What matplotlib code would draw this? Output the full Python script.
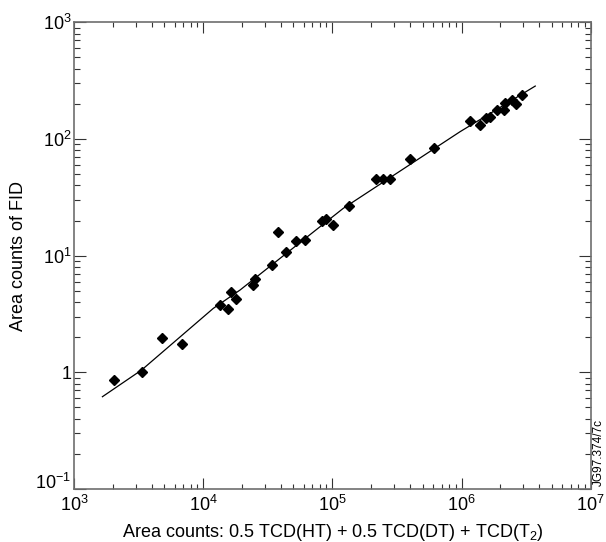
import numpy as np
import matplotlib
matplotlib.use('Agg')
import matplotlib.pyplot as plt
import matplotlib.transforms as mtransforms
from matplotlib.ticker import FixedLocator, FixedFormatter, LogLocator, NullFormatter

plt.rcParams['font.family'] = ['Liberation Sans', 'DejaVu Sans']
plt.rcParams['mathtext.fontset'] = 'custom'
plt.rcParams['mathtext.rm'] = 'Liberation Sans'
plt.rcParams['mathtext.it'] = 'Liberation Sans:italic'
plt.rcParams['mathtext.default'] = 'regular'

# measured points (TCD area sum vs FID area)
tcd_counts = [2040, 3380, 4830, 6850, 13550, 15560, 16330, 17950, 24270, 25300,
              34050, 37900, 43950, 52000, 61700, 83500, 89200, 101000, 134500,
              216000, 248000, 279000, 399000, 611000, 1.16e6, 1.38e6, 1.535e6,
              1.67e6, 1.89e6, 2.13e6, 2.16e6, 2.47e6, 2.64e6, 2.92e6]
fid_counts = [0.86, 1.01, 1.95, 1.75, 3.78, 3.48, 4.88, 4.28, 5.6, 6.3,
              8.3, 15.9, 10.7, 13.3, 13.7, 19.8, 20.5, 18.3, 26.6,
              45.6, 45.6, 45.6, 67.6, 83, 143, 132, 150,
              155, 177, 177, 204, 215, 198, 237]

# fitted curve
fit_x = [1660, 3340, 11970, 19280, 121300, 972800, 3.72e6]
fit_y = [0.618, 1.047, 3.53, 5.07, 25.4, 115.3, 284]

x_ticks = [1e3, 1e4, 1e5, 1e6, 1e7]
x_labels = ['$10^{3}$', '$10^{4}$', '$10^{5}$', '$10^{6}$', '$10^{7}$']
y_ticks = [1e-1, 1, 1e1, 1e2, 1e3]
y_labels = ['$10^{-1}$', '1', '$10^{1}$', '$10^{2}$', '$10^{3}$']

fig = plt.figure(figsize=(6.06, 5.42), dpi=100)
ax = fig.add_axes([0.1221, 0.0978, 0.8527, 0.8611])

ax.plot(fit_x, fit_y, color='black', lw=0.9, zorder=2)
ax.plot(tcd_counts, fid_counts, 'D', color='black', ms=4.8, zorder=3)

ax.set_xscale('log')
ax.set_yscale('log')
ax.set_xlim(1e3, 1e7)
ax.set_ylim(1e-1, 1e3)

ax.xaxis.set_major_locator(FixedLocator(x_ticks))
ax.xaxis.set_major_formatter(FixedFormatter(x_labels))
ax.yaxis.set_major_locator(FixedLocator(y_ticks))
ax.yaxis.set_major_formatter(FixedFormatter(y_labels))
ax.xaxis.set_minor_locator(LogLocator(base=10, subs=np.arange(2, 10)))
ax.yaxis.set_minor_locator(LogLocator(base=10, subs=np.arange(2, 10)))
ax.xaxis.set_minor_formatter(NullFormatter())
ax.yaxis.set_minor_formatter(NullFormatter())

ax.tick_params(which='both', direction='in', top=True, right=True,
               color='#333333', width=0.8, labelsize=13)
ax.tick_params(axis='x', which='major', length=8, pad=4)
ax.tick_params(axis='x', which='minor', length=3.6)
ax.tick_params(axis='y', which='major', length=8.5, pad=2)
ax.tick_params(axis='y', which='minor', length=4.5)

for sp in ax.spines.values():
    sp.set_color('#6e6e6e')
    sp.set_linewidth(1.2)

ax.set_xlabel('Area counts: 0.5 TCD(HT) + 0.5 TCD(DT) + TCD(T$_2$)',
              fontsize=13, labelpad=5)
ax.set_ylabel('Area counts of FID', fontsize=13, labelpad=6)

fig.text(0.978, 0.103, 'JG97.374/7c', rotation=90, fontsize=8.5,
         ha='left', va='bottom')

# lift the bottom y label a little so it clears the x label at the corner
lab = ax.yaxis.get_major_ticks()[0].label1
lab.set_transform(lab.get_transform() +
                  mtransforms.ScaledTranslation(0, 6 / 72, fig.dpi_scale_trans))

fig.savefig('out.png', dpi=100)
